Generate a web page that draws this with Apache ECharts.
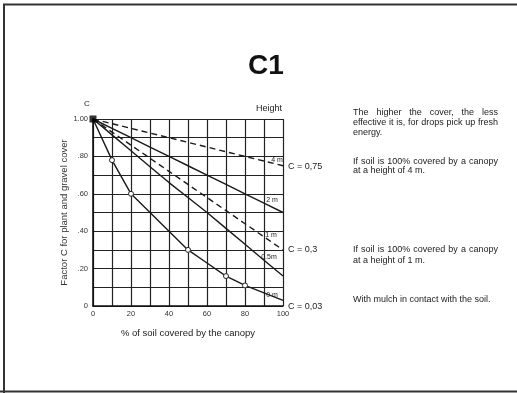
<!DOCTYPE html>
<html><head><meta charset="utf-8">
<script src="https://cdn.jsdelivr.net/npm/echarts@6/dist/echarts.min.js"></script>
<style>html,body{margin:0;padding:0;background:#fff}#c{width:517px;height:393px}</style>
</head><body><div id="c"></div>
<script>
const coverPct = [0,10,20,30,40,50,60,70,80,90,100];
const c4m  = [1.00,0.975,0.95,0.925,0.90,0.875,0.85,0.825,0.80,0.775,0.75];
const c2m  = [1.00,0.95,0.90,0.85,0.80,0.75,0.70,0.65,0.60,0.55,0.50];
const c1m  = [1.00,0.93,0.86,0.79,0.72,0.65,0.58,0.51,0.44,0.37,0.30];
const c05m = [1.00,0.915,0.83,0.745,0.66,0.58,0.50,0.415,0.33,0.245,0.16];
const c0m  = [1.00,0.78,0.60,0.50,0.40,0.30,0.23,0.16,0.11,0.07,0.03];
const circleIdx = [1,2,5,7,8];
const xTicks = [0,20,40,60,80,100];
const yTickLabels = {0:'0',2:'.20',4:'.40',6:'.60',8:'.80',10:'1.00'};

const chart = echarts.init(document.getElementById('c'), null, {renderer:'canvas'});
const ink = '#222';
const FONT = 'Liberation Sans';
function pairs(ys){ return coverPct.map((x,i)=>[x,ys[i]]); }
function lineSeries(name, ys, dashed){
  return {name, type:'line', data:pairs(ys), symbol:'none', silent:true,
    lineStyle:{color:'#1a1a1a', width:1.4, type: dashed ? [6,4] : 'solid'}, z:3};
}
const txt = (x,y,text,size,opts)=>({type:'text', x, y, style:Object.assign({text, fill:ink, font:`${size}px "${FONT}"`, textVerticalAlign:'middle'}, (opts||{}))});

// justified text line: spreads words between x0 and x1
const mctx = document.createElement('canvas').getContext('2d');
function justified(x0, x1, y, line, size){
  mctx.font = `${size}px "${FONT}"`;
  const words = line.split(' ');
  const widths = words.map(w=>mctx.measureText(w).width);
  const total = widths.reduce((a,b)=>a+b,0);
  const gap = (x1 - x0 - total) / (words.length - 1);
  let x = x0; const out = [];
  words.forEach((w,i)=>{ out.push(txt(x, y, w, size)); x += widths[i] + gap; });
  return out;
}

const graphic = [
  {type:'polyline', shape:{points:[[4,393],[4,4.5],[520,4.5]]}, style:{stroke:'#333', lineWidth:2, fill:null}},
  {type:'line', shape:{x1:0,y1:391.5,x2:517,y2:391.5}, style:{stroke:'#333', lineWidth:2}},
  txt(87,104,'C',8,{textAlign:'center'}),
  txt(282,109,'Height',9,{textAlign:'right'}),
  txt(277,160,'4 m',7,{textAlign:'center'}),
  txt(272,200,'2 m',7,{textAlign:'center'}),
  txt(271,235,'1 m',7,{textAlign:'center'}),
  txt(269,257,'0.5m',7,{textAlign:'center'}),
  txt(272,295,'0 m',7,{textAlign:'center'}),
  txt(288,167,'C = 0,75',9),
  txt(288,250,'C = 0,3',9),
  txt(288,307,'C = 0,03',9),
  ...justified(353, 498, 113, 'The higher the cover, the less', 9),
  ...justified(353, 498, 123, 'effective it is, for drops pick up fresh', 9),
  txt(353,133,'energy.',9),
  ...justified(353, 498, 162, 'If soil is 100% covered by a canopy', 9),
  txt(353,171,'at a height of 4 m.',9),
  ...justified(353, 498, 250, 'If soil is 100% covered by a canopy', 9),
  txt(353,261,'at a height of 1 m.',9),
  txt(353,300,'With mulch in contact with the soil.',9)
];

chart.setOption({
  animation:false,
  backgroundColor:'#fff',
  title:{text:'C1', left:261, top:47, textAlign:'center',
    textStyle:{fontFamily:FONT, fontSize:28, fontWeight:'bold', color:'#111'}},
  grid:{left:93, right:234, top:119, bottom:87},
  xAxis:{type:'value', min:0, max:100, interval:10,
    name:'% of soil covered by the canopy', nameLocation:'middle', nameGap:22,
    nameTextStyle:{fontFamily:FONT, fontSize:9.5, color:ink},
    axisLine:{lineStyle:{color:'#111', width:1.6}}, axisTick:{show:false},
    axisLabel:{fontFamily:FONT, fontSize:7.5, color:'#333', margin:4,
      formatter:v=> xTicks.includes(v) ? String(v) : ''},
    splitLine:{show:true, lineStyle:{color:'#222', width:1.2}}},
  yAxis:{type:'value', min:0, max:1, interval:0.1,
    name:'Factor C for plant and gravel cover', nameLocation:'middle', nameGap:24, nameRotate:90,
    nameTextStyle:{fontFamily:FONT, fontSize:9.5, color:'#333'},
    axisLine:{show:true, lineStyle:{color:'#111', width:1.6}}, axisTick:{show:false},
    axisLabel:{fontFamily:FONT, fontSize:7.5, color:'#333', margin:5,
      formatter:v=>{const k=Math.round(v*10); return yTickLabels[k]!==undefined ? yTickLabels[k] : '';}},
    splitLine:{show:true, lineStyle:{color:'#222', width:1.2}}},
  graphic,
  series:[
    lineSeries('4 m', c4m, true),
    lineSeries('2 m', c2m, false),
    lineSeries('1 m', c1m, true),
    lineSeries('0.5 m', c05m, false),
    Object.assign(lineSeries('0 m', c0m, false), {
      symbol:'circle', showAllSymbol:true,
      symbolSize:(v,p)=> circleIdx.includes(p.dataIndex) ? 5 : 0,
      itemStyle:{color:'#fff', borderColor:ink, borderWidth:1}
    }),
    {type:'scatter', data:[[coverPct[0], c0m[0]]], symbol:'rect', symbolSize:7,
      itemStyle:{color:'#000'}, z:5, silent:true}
  ]
});
</script></body></html>
